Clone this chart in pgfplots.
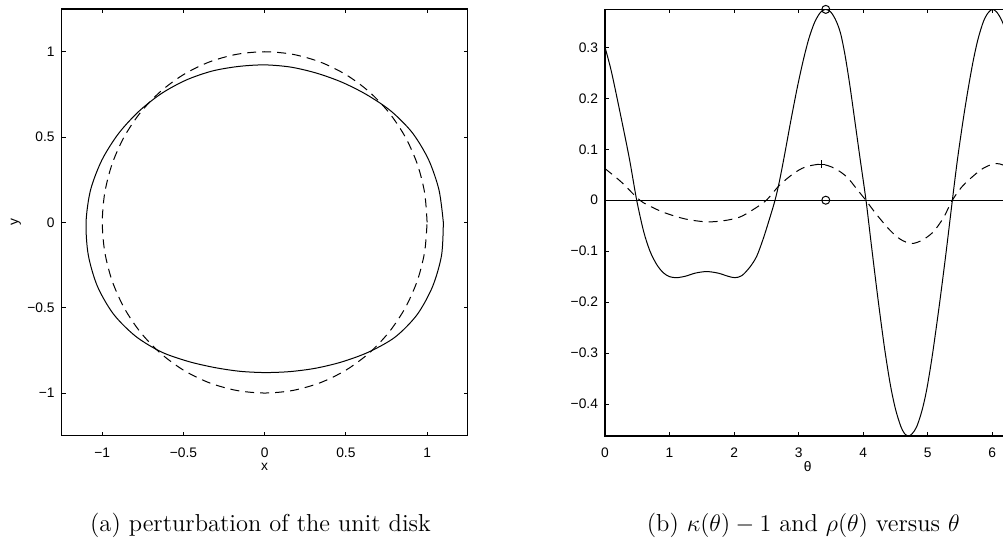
\documentclass[border=0pt]{standalone}
\usepackage{fontspec}
\usepackage{pgfplots}
\pgfplotsset{compat=1.18}
\newfontfamily\hv{Liberation Sans}

\pgfplotsset{
  mlab/.style={
    scale only axis, width=203pt, height=213.3pt,
    anchor=south west,
    axis line style={line width=0.6pt},
    tick align=inside, major tick length=2pt,
    every tick/.style={black, line width=0.5pt},
    tick label style={font=\hv\fontsize{6.9}{8}\selectfont},
    label style={font=\hv\fontsize{6.9}{8}\selectfont},
    xticklabel style={yshift=-2.5pt},
    xlabel style={at={(axis description cs:0.5,-0.0727)}, anchor=center},
  },
  curve/.style={black, line width=0.5pt, smooth, tension=0.5, mark=none},
  dcurve/.style={curve, dash pattern=on 4.5pt off 3pt},
}

\begin{document}
\begin{tikzpicture}
\useasboundingbox (0,0) rectangle (501.5pt,269.5pt);

% (a) the unit circle and its perturbation
\begin{axis}[mlab, at={(30.85pt,51.65pt)},
  xmin=-1.25, xmax=1.25, ymin=-1.25, ymax=1.25,
  xtick={-1,-0.5,0,0.5,1}, xticklabels={−1,−0.5,0,0.5,1},
  ytick={-1,-0.5,0,0.5,1}, yticklabels={−1,−0.5,0,0.5,1},
  xlabel={x}, ylabel={y},
  ylabel style={at={(axis description cs:-0.1125,0.5)}, anchor=center},
]
\addplot[curve] coordinates {
 (1.1000,0) (1.0734,0.1892) (1.0092,0.3673) (0.9093,0.5250) (0.7775,0.6524)
 (0.6280,0.7484) (0.4745,0.8219) (0.3184,0.8749) (0.1604,0.9100) (0,0.9230)
 (-0.1611,0.9139) (-0.3228,0.8871) (-0.4820,0.8348) (-0.6344,0.7561) (-0.7752,0.6505)
 (-0.9006,0.5200) (-1.0027,0.3649) (-1.0725,0.1891) (-1.1000,0) (-1.0862,-0.1915)
 (-1.0299,-0.3748) (-0.9310,-0.5375) (-0.7951,-0.6672) (-0.6370,-0.7591) (-0.4705,-0.8149)
 (-0.3095,-0.8504) (-0.1538,-0.8725) (0,-0.8800) (0.1542,-0.8745) (0.3112,-0.8551)
 (0.4725,-0.8184) (0.6383,-0.7607) (0.8020,-0.6730) (0.9379,-0.5415) (1.0337,-0.3762)
 (1.0892,-0.1920) (1.1000,0)
};
\addplot[dcurve] coordinates {
 (1,0) (0.9848,0.1736) (0.9397,0.3420) (0.8660,0.5) (0.7660,0.6428)
 (0.6428,0.7660) (0.5,0.8660) (0.3420,0.9397) (0.1736,0.9848) (0,1)
 (-0.1736,0.9848) (-0.3420,0.9397) (-0.5,0.8660) (-0.6428,0.7660) (-0.7660,0.6428)
 (-0.8660,0.5) (-0.9397,0.3420) (-0.9848,0.1736) (-1,0) (-0.9848,-0.1736)
 (-0.9397,-0.3420) (-0.8660,-0.5) (-0.7660,-0.6428) (-0.6428,-0.7660) (-0.5,-0.8660)
 (-0.3420,-0.9397) (-0.1736,-0.9848) (0,-1) (0.1736,-0.9848) (0.3420,-0.9397)
 (0.5,-0.8660) (0.6428,-0.7660) (0.7660,-0.6428) (0.8660,-0.5) (0.9397,-0.3420)
 (0.9848,-0.1736) (1,0)
};
\end{axis}

% (b) curvature minus one (solid) and rho (dashed)
\begin{axis}[mlab, at={(302.5pt,51.5pt)}, width=202.8pt,
  xmin=0, xmax=6.2832, ymin=-0.4627, ymax=0.3745,
  xtick={0,1,2,3,4,5,6}, xticklabels={0,1,2,3,4,5,6},
  ytick={-0.4,-0.3,-0.2,-0.1,0,0.1,0.2,0.3},
  yticklabels={−0.4,−0.3,−0.2,−0.1,0,0.1,0.2,0.3},
  xlabel={θ},
]
\addplot[curve] coordinates {
 (0.000,0.300) (0.100,0.252) (0.258,0.157) (0.380,0.080) (0.491,0.000)
 (0.600,-0.062) (0.697,-0.100) (0.800,-0.126) (0.900,-0.142) (1.000,-0.150)
 (1.110,-0.152) (1.250,-0.149) (1.400,-0.143) (1.575,-0.140) (1.750,-0.143)
 (1.900,-0.149) (2.010,-0.152) (2.120,-0.148) (2.246,-0.131) (2.350,-0.110)
 (2.450,-0.076) (2.540,-0.040) (2.634,0.000) (2.700,0.036) (2.780,0.088)
 (2.880,0.157) (2.980,0.222) (3.072,0.275) (3.160,0.318) (3.250,0.350)
 (3.340,0.369) (3.420,0.3745) (3.500,0.369) (3.580,0.352) (3.650,0.327)
 (3.718,0.285) (3.790,0.228) (3.860,0.165) (3.950,0.083) (4.043,0.000)
 (4.131,-0.093) (4.230,-0.195) (4.330,-0.290) (4.420,-0.362) (4.500,-0.410)
 (4.580,-0.443) (4.640,-0.458) (4.700,-0.4627) (4.760,-0.458) (4.830,-0.444)
 (4.910,-0.413) (4.983,-0.372) (5.070,-0.305) (5.180,-0.205) (5.283,-0.103)
 (5.381,0.000) (5.460,0.080) (5.551,0.160) (5.630,0.222) (5.706,0.275)
 (5.780,0.317) (5.860,0.350) (5.930,0.367) (6.000,0.3745) (6.070,0.369)
 (6.145,0.353) (6.215,0.330) (6.283,0.300)
};
\addplot[dcurve] coordinates {
 (0,0.062) (0.25,0.036) (0.54,0.0) (0.75,-0.015) (0.955,-0.026)
 (1.25,-0.037) (1.575,-0.0425) (1.85,-0.040) (2.09,-0.033) (2.30,-0.018)
 (2.50,0.0) (2.70,0.029) (2.917,0.052) (3.10,0.065) (3.346,0.0706)
 (3.55,0.063) (3.744,0.046) (3.90,0.022) (4.04,0.0) (4.20,-0.027)
 (4.415,-0.059) (4.58,-0.077) (4.75,-0.085) (4.92,-0.078) (5.086,-0.062)
 (5.24,-0.035) (5.381,0.0) (5.52,0.025) (5.655,0.042) (5.85,0.062)
 (6.04,0.072) (6.17,0.069) (6.283,0.062)
};
\addplot[black, line width=0.5pt] coordinates {(0,0) (6.2832,0)};
\addplot[black, line width=0.5pt, only marks, mark=o, mark size=2pt] coordinates {(3.42,0.3745) (3.42,0)};
\addplot[black, line width=0.5pt, only marks, mark=+, mark size=2pt] coordinates {(3.346,0.0706)};
\end{axis}

\node[anchor=base, font=\fontsize{12.25}{14}\selectfont] at (130.25pt,3.75pt) {(a)~perturbation of the unit disk};
\node[anchor=base, font=\fontsize{12.25}{14}\selectfont] at (401.65pt,3.75pt) {(b)~$\kappa(\theta)-1$ and $\rho(\theta)$ versus $\theta$};
\end{tikzpicture}
\end{document}
